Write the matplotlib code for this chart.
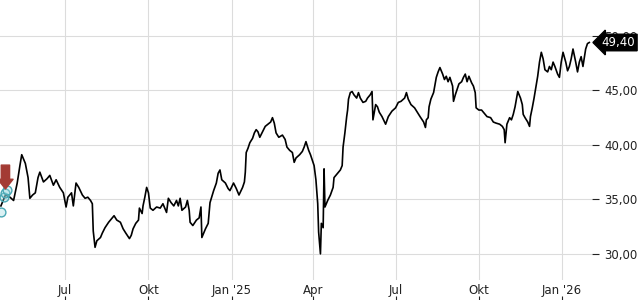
import matplotlib
matplotlib.use("Agg")
import matplotlib.pyplot as plt
import matplotlib.transforms as mtransforms
import pandas as pd

# price trace (date, close)
dates = [
    "2024-04-21", "2024-04-26", "2024-05-01", "2024-05-05", "2024-05-09", "2024-05-12", "2024-05-14",
    "2024-05-18", "2024-05-21", "2024-05-23", "2024-05-26", "2024-05-29", "2024-06-01", "2024-06-03",
    "2024-06-07", "2024-06-11", "2024-06-14", "2024-06-18", "2024-06-21", "2024-06-25", "2024-06-29",
    "2024-07-02", "2024-07-04", "2024-07-08", "2024-07-10", "2024-07-13", "2024-07-16", "2024-07-20",
    "2024-07-23", "2024-07-26", "2024-07-29", "2024-07-31", "2024-08-01", "2024-08-03", "2024-08-05",
    "2024-08-09", "2024-08-11", "2024-08-14", "2024-08-18", "2024-08-21", "2024-08-24", "2024-08-27",
    "2024-08-31", "2024-09-03", "2024-09-06", "2024-09-10", "2024-09-12", "2024-09-14", "2024-09-17",
    "2024-09-20", "2024-09-21", "2024-09-24", "2024-09-25", "2024-09-27", "2024-09-29", "2024-10-01",
    "2024-10-03", "2024-10-06", "2024-10-10", "2024-10-14", "2024-10-17", "2024-10-21", "2024-10-23",
    "2024-10-26", "2024-10-29", "2024-11-01", "2024-11-03", "2024-11-05", "2024-11-07", "2024-11-11",
    "2024-11-13", "2024-11-15", "2024-11-16", "2024-11-19", "2024-11-23", "2024-11-26", "2024-11-28",
    "2024-11-29", "2024-12-03", "2024-12-06", "2024-12-08", "2024-12-12", "2024-12-15", "2024-12-17",
    "2024-12-19", "2024-12-21", "2024-12-25", "2024-12-28", "2024-12-30", "2025-01-03", "2025-01-06",
    "2025-01-09", "2025-01-13", "2025-01-15", "2025-01-16", "2025-01-17", "2025-01-19", "2025-01-21",
    "2025-01-24", "2025-01-26", "2025-01-28", "2025-01-30", "2025-02-01", "2025-02-04", "2025-02-07",
    "2025-02-10", "2025-02-13", "2025-02-15", "2025-02-17", "2025-02-19", "2025-02-22", "2025-02-26",
    "2025-03-01", "2025-03-03", "2025-03-06", "2025-03-09", "2025-03-11", "2025-03-13", "2025-03-17",
    "2025-03-20", "2025-03-22", "2025-03-24", "2025-03-27", "2025-03-29", "2025-03-31", "2025-04-02",
    "2025-04-04", "2025-04-06", "2025-04-07", "2025-04-09", "2025-04-10", "2025-04-12", "2025-04-13",
    "2025-04-14", "2025-04-17", "2025-04-20", "2025-04-23", "2025-04-24", "2025-04-28", "2025-05-01",
    "2025-05-03", "2025-05-04", "2025-05-06", "2025-05-08", "2025-05-09", "2025-05-10", "2025-05-12",
    "2025-05-14", "2025-05-16", "2025-05-19", "2025-05-21", "2025-05-23", "2025-05-26", "2025-05-29",
    "2025-05-31", "2025-06-03", "2025-06-05", "2025-06-06", "2025-06-09", "2025-06-11", "2025-06-13",
    "2025-06-16", "2025-06-20", "2025-06-23", "2025-06-27", "2025-07-01", "2025-07-04", "2025-07-07",
    "2025-07-11", "2025-07-13", "2025-07-15", "2025-07-18", "2025-07-22", "2025-07-25", "2025-07-28",
    "2025-08-01", "2025-08-03", "2025-08-04", "2025-08-06", "2025-08-07", "2025-08-09", "2025-08-12",
    "2025-08-14", "2025-08-15", "2025-08-17", "2025-08-19", "2025-08-22", "2025-08-24", "2025-08-26",
    "2025-08-28", "2025-08-30", "2025-09-02", "2025-09-03", "2025-09-05", "2025-09-07", "2025-09-09",
    "2025-09-12", "2025-09-14", "2025-09-16", "2025-09-18", "2025-09-20", "2025-09-23", "2025-09-25",
    "2025-09-27", "2025-09-28", "2025-10-01", "2025-10-04", "2025-10-07", "2025-10-10", "2025-10-14",
    "2025-10-17", "2025-10-20", "2025-10-24", "2025-10-27", "2025-10-29", "2025-10-30", "2025-11-01",
    "2025-11-04", "2025-11-06", "2025-11-08", "2025-11-10", "2025-11-12", "2025-11-13", "2025-11-16",
    "2025-11-18", "2025-11-19", "2025-11-21", "2025-11-24", "2025-11-26", "2025-11-27", "2025-11-29",
    "2025-12-01", "2025-12-03", "2025-12-05", "2025-12-07", "2025-12-09", "2025-12-11", "2025-12-13",
    "2025-12-16", "2025-12-18", "2025-12-20", "2025-12-22", "2025-12-24", "2025-12-27", "2025-12-29",
    "2025-12-31", "2026-01-02", "2026-01-05", "2026-01-07", "2026-01-09", "2026-01-11", "2026-01-13",
    "2026-01-16", "2026-01-18", "2026-01-20", "2026-01-22", "2026-01-24", "2026-01-27", "2026-01-29",
    "2026-01-31",
]
prices = [
    34.4, 35.4, 35.2, 34.9, 36.5, 38.1, 39.1,
    38.3, 37.0, 35.1, 35.4, 35.6, 37.0, 37.5,
    36.6, 36.9, 37.2, 36.3, 36.8, 36.1, 35.6,
    34.3, 35.2, 35.6, 34.4, 36.5, 36.1, 35.4,
    35.1, 35.2, 34.9, 34.6, 32.1, 30.6, 31.2,
    31.5, 31.9, 32.4, 32.9, 33.2, 33.5, 33.1,
    32.9, 32.3, 31.9, 31.4, 31.7, 32.3, 32.8,
    33.1, 34.2, 33.7, 34.4, 35.2, 36.1, 35.6,
    34.2, 34.0, 34.3, 34.2, 34.6, 33.8, 35.1,
    34.7, 34.4, 34.9, 34.4, 35.1, 34.0, 34.3,
    34.9, 34.0, 32.9, 32.6, 33.1, 33.3, 34.3,
    31.5, 32.3, 32.8, 34.7, 35.8, 36.5, 37.4,
    37.7, 36.8, 36.5, 36.0, 35.8, 36.5, 36.0,
    35.4, 36.1, 36.6, 37.5, 39.3, 39.7, 40.2,
    40.6, 41.1, 41.4, 41.2, 40.7, 41.2, 41.7,
    41.9, 42.1, 42.5, 42.0, 41.1, 40.7, 40.9,
    40.5, 39.8, 39.5, 39.3, 38.4, 38.8, 39.1,
    39.4, 39.8, 40.3, 39.5, 39.1, 38.6, 38.1,
    36.8, 34.6, 32.0, 30.0, 32.8, 32.4, 37.8,
    34.3, 34.9, 35.4, 36.1, 37.0, 37.4, 37.7,
    38.1, 39.8, 41.1, 42.6, 43.2, 44.2, 44.8,
    44.9, 44.6, 44.3, 44.8, 44.3, 43.9, 44.0,
    44.3, 44.6, 44.9, 42.3, 43.7, 43.5, 43.0,
    42.6, 41.9, 42.6, 43.1, 43.4, 43.9, 44.0,
    44.3, 44.8, 44.2, 43.7, 43.4, 43.0, 42.6,
    42.1, 41.6, 42.3, 42.5, 43.5, 44.2, 44.8,
    45.7, 46.2, 46.7, 47.1, 46.5, 46.0, 46.3,
    45.8, 46.2, 45.4, 44.0, 44.6, 45.1, 45.6,
    45.8, 46.2, 46.5, 45.8, 46.3, 45.7, 45.4,
    44.8, 43.4, 43.2, 43.2, 42.9, 42.6, 42.5,
    42.1, 42.0, 41.9, 41.7, 41.4, 40.2, 41.9,
    42.5, 42.3, 42.8, 43.5, 44.4, 44.9, 44.3,
    43.7, 42.8, 42.5, 42.1, 41.7, 42.6, 43.4,
    44.3, 45.3, 46.3, 47.6, 48.5, 47.9, 46.9,
    46.7, 47.2, 46.9, 47.6, 47.2, 46.5, 46.2,
    47.6, 48.5, 47.6, 46.8, 47.2, 47.9, 48.8,
    47.6, 46.7, 47.6, 48.1, 47.2, 48.8, 49.3,
    49.4,
]

# event markers near the start
event_dates = ["2024-04-21", "2024-04-24", "2024-04-26", "2024-04-28"]
event_prices = [33.8, 35.2, 35.6, 35.9]
signal_date = "2024-04-26"
signal_price = 37.2

last_price = 49.40
y_ticks = [30, 35, 40, 45, 50]
x_ticks = ["2024-07-01", "2024-10-01", "2025-01-01", "2025-04-01",
           "2025-07-01", "2025-10-01", "2026-01-01"]
x_labels = ["Jul", "Okt", "Jan '25", "Apr", "Jul", "Okt", "Jan '26"]

dt = pd.to_datetime(dates)
fig = plt.figure(figsize=(6.4, 3.0), dpi=100)
ax = fig.add_axes([0.0, 20 / 300, 592 / 640, 280 / 300])

ax.plot(dt, prices, color="black", lw=1.2, zorder=3)

# cyan rings + red arrow
ax.scatter(pd.to_datetime(event_dates), event_prices, s=40, facecolor=(0.6, 0.85, 0.88, 0.35),
           edgecolor="#4aa8b5", lw=1.0, zorder=4)
ax.annotate("", xy=(pd.Timestamp(signal_date), signal_price - 1.5),
            xytext=(pd.Timestamp(signal_date), signal_price + 1.2),
            arrowprops=dict(arrowstyle="simple,head_width=1.1,head_length=0.7,tail_width=0.6",
                            fc="#a33b34", ec="#a33b34"), zorder=5)

ax.set_xlim(pd.Timestamp("2024-04-20"), pd.Timestamp("2026-02-03"))
ax.set_ylim(27.6, 53.3)

ax.set_yticks(y_ticks)
ax.set_yticklabels([f"{v:.2f}".replace(".", ",") for v in y_ticks])
ax.yaxis.tick_right()
ax.tick_params(axis="y", length=5, width=0.8, pad=4, labelsize=8.5, colors="#222222")

ax.set_xticks(pd.to_datetime(x_ticks))
ax.set_xticklabels(x_labels)
ax.tick_params(axis="x", length=0, pad=3, labelsize=8.5, colors="#222222")

ax.grid(True, color="#dcdcdc", lw=0.8)
ax.set_axisbelow(True)
for s in ax.spines.values():
    s.set_visible(False)

# tiny tick marks under the date labels
ax2 = fig.add_axes([0.0, 0.0, 592 / 640, 4 / 300], sharex=ax)
ax2.set_yticks([])
ax2.tick_params(axis="x", direction="in", length=3, width=0.8, labelbottom=False, colors="#222222")
ax2.patch.set_alpha(0)
for s in ax2.spines.values():
    s.set_visible(False)

# last price tag
trans = mtransforms.blended_transform_factory(ax.transAxes, ax.transData)
ax.annotate(f"{last_price:.2f}".replace(".", ","),
            xy=(1.0, last_price), xycoords=trans, xytext=(7, 0), textcoords="offset points",
            va="center", ha="left", color="white", fontsize=8.5, annotation_clip=False,
            bbox=dict(boxstyle="larrow,pad=0.15", fc="black", ec="black"), zorder=10)

fig.savefig("out.png", dpi=100)
